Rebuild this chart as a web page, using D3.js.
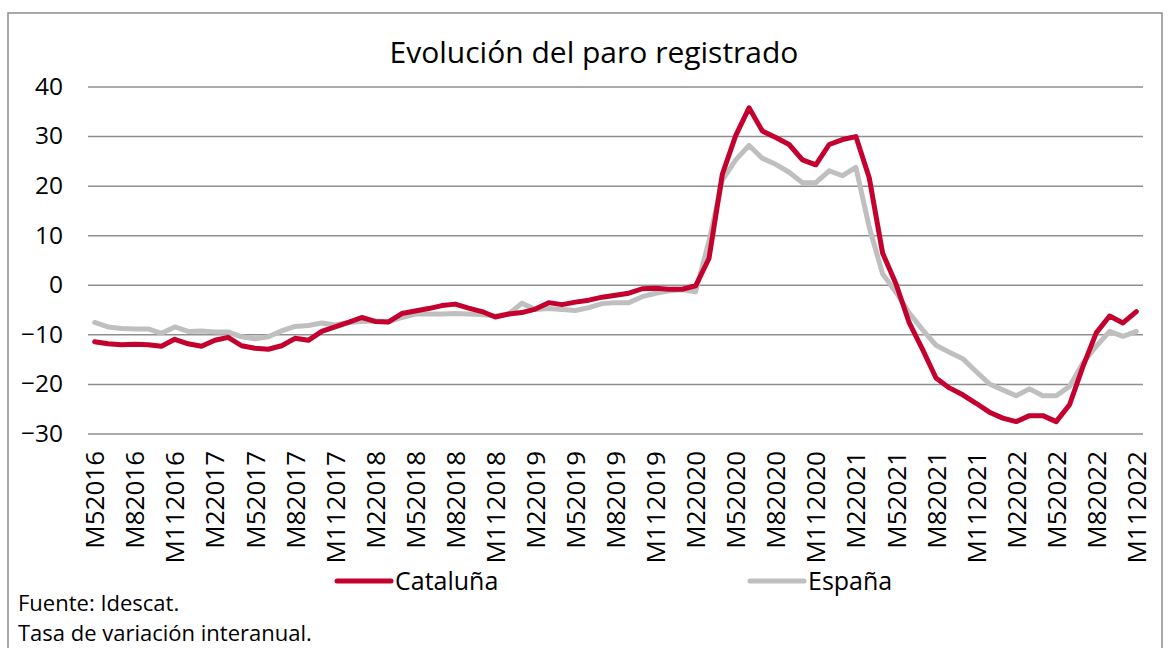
<!DOCTYPE html>
<html>
<head>
<meta charset="utf-8">
<script src="https://cdn.jsdelivr.net/npm/d3@7"></script>
<style>
  body { margin: 0; background: #fff; }
  svg { display: block; font-family: "Open Sans", sans-serif; }
</style>
</head>
<body>
<script>
// months, May 2016 .. Nov 2022
var months = [
  "M52016","M62016","M72016","M82016","M92016","M102016","M112016","M122016",
  "M12017","M22017","M32017","M42017","M52017","M62017","M72017","M82017","M92017","M102017","M112017","M122017",
  "M12018","M22018","M32018","M42018","M52018","M62018","M72018","M82018","M92018","M102018","M112018","M122018",
  "M12019","M22019","M32019","M42019","M52019","M62019","M72019","M82019","M92019","M102019","M112019","M122019",
  "M12020","M22020","M32020","M42020","M52020","M62020","M72020","M82020","M92020","M102020","M112020","M122020",
  "M12021","M22021","M32021","M42021","M52021","M62021","M72021","M82021","M92021","M102021","M112021","M122021",
  "M12022","M22022","M32022","M42022","M52022","M62022","M72022","M82022","M92022","M102022","M112022"
];

var cataluna = [
  -11.5, -11.9, -12.1, -12.0, -12.1, -12.4, -11.0, -11.9,
  -12.4, -11.2, -10.6, -12.3, -12.8, -13.0, -12.3, -10.8, -11.2, -9.4, -8.5, -7.6,
  -6.6, -7.4, -7.5, -5.8, -5.3, -4.8, -4.2, -3.9, -4.7, -5.4, -6.5, -5.9,
  -5.6, -4.9, -3.6, -4.0, -3.5, -3.1, -2.5, -2.1, -1.7, -0.8, -0.7, -0.9,
  -0.9, -0.2, 5.3, 22.3, 30.1, 35.7, 31.0, 29.7, 28.3, 25.2, 24.2, 28.3,
  29.3, 29.9, 21.6, 6.4, 0.2, -7.7, -13.1, -18.8, -20.8, -22.2, -23.9, -25.7,
  -26.9, -27.6, -26.4, -26.4, -27.6, -24.2, -16.5, -9.7, -6.3, -7.7, -5.4
];

var espana = [
  -7.6, -8.5, -8.8, -8.9, -8.9, -9.8, -8.5, -9.4,
  -9.3, -9.5, -9.5, -10.5, -10.9, -10.5, -9.3, -8.4, -8.2, -7.7, -8.1, -7.6,
  -7.4, -7.3, -7.5, -6.6, -5.9, -5.9, -5.9, -5.8, -5.9, -6.0, -6.3, -5.9,
  -3.7, -5.0, -4.8, -5.0, -5.2, -4.6, -3.8, -3.6, -3.6, -2.4, -1.7, -1.2,
  -1.0, -1.4, 8.8, 21.1, 25.2, 28.1, 25.5, 24.3, 22.7, 20.6, 20.6, 23.0,
  22.0, 23.7, 11.6, 2.2, -1.5, -5.7, -9.1, -12.2, -13.6, -14.9, -17.5, -20.0,
  -21.2, -22.4, -21.0, -22.4, -22.4, -20.5, -15.8, -12.4, -9.4, -10.4, -9.4
];

var yTicks = [-30, -20, -10, 0, 10, 20, 30, 40];
var xTickLabels = months.filter(function(d, i) { return i % 3 == 0; });

var seriesNames = ["Cataluña", "España"];
var seriesColors = ["#c4002f", "#bfbfbf"];

var width = 1169;
var height = 648;

var svg = d3.select("body")
  .append("svg")
  .attr("width", width)
  .attr("height", height);

// chart frame
svg.append("rect")
  .attr("x", 8).attr("y", 13)
  .attr("width", 1154).attr("height", 660)
  .attr("fill", "none")
  .attr("stroke", "#8c8c8c")
  .attr("stroke-width", 1.5);

var x = d3.scalePoint()
  .domain(months)
  .range([88, 1143])
  .padding(0.5);

var y = d3.scaleLinear()
  .domain([-30, 40])
  .range([433.5, 86.5]);

// gridlines
svg.append("g")
  .attr("transform", "translate(88,0)")
  .call(d3.axisLeft(y).tickValues(yTicks).tickSize(-1055).tickFormat(""))
  .call(function(g) {
    g.select(".domain").remove();
    g.selectAll(".tick line").attr("stroke", "#8f8f8f").attr("stroke-width", 1.5);
  });

// y labels
svg.append("g")
  .attr("transform", "translate(63,0)")
  .call(d3.axisLeft(y).tickValues(yTicks).tickSize(0).tickPadding(0))
  .call(function(g) {
    g.select(".domain").remove();
    g.selectAll("text")
      .attr("font-family", "Open Sans")
      .attr("font-size", "24.5px")
      .attr("fill", "#000");
  });

// x labels
svg.append("g")
  .attr("transform", "translate(0,451)")
  .call(d3.axisBottom(x).tickValues(xTickLabels).tickSize(0).tickPadding(0))
  .call(function(g) {
    g.select(".domain").remove();
    g.selectAll("text")
      .attr("font-family", "Open Sans")
      .attr("font-size", "26px")
      .attr("fill", "#000")
      .attr("text-anchor", "end")
      .attr("transform", "rotate(-90)")
      .attr("x", 0)
      .attr("y", 0)
      .attr("dy", "0.35em");
  });

// lines
var line = d3.line()
  .x(function(d, i) { return x(months[i]); })
  .y(function(d) { return y(d); });

[cataluna, espana].reverse().forEach(function(s, k) {
  svg.append("path")
    .datum(s)
    .attr("d", line)
    .attr("fill", "none")
    .attr("stroke", seriesColors[1 - k])
    .attr("stroke-width", 5)
    .attr("stroke-linejoin", "round")
    .attr("stroke-linecap", "round");
});

// title
svg.append("text")
  .text("Evolución del paro registrado")
  .attr("x", 594)
  .attr("y", 63)
  .attr("text-anchor", "middle")
  .attr("font-size", "30px")
  .attr("fill", "#000");

// legend
var legendX = [337, 750];
seriesNames.forEach(function(name, i) {
  svg.append("line")
    .attr("x1", legendX[i]).attr("x2", legendX[i] + 54)
    .attr("y1", 581).attr("y2", 581)
    .attr("stroke", seriesColors[i])
    .attr("stroke-width", 5)
    .attr("stroke-linecap", "round");
  svg.append("text")
    .text(name)
    .attr("x", legendX[i] + 58)
    .attr("y", 590)
    .attr("font-size", "25px")
    .attr("fill", "#000");
});

// notes
svg.append("text")
  .text("Fuente: Idescat.")
  .attr("x", 18).attr("y", 611)
  .attr("font-size", "22px")
  .attr("fill", "#000");
svg.append("text")
  .text("Tasa de variación interanual.")
  .attr("x", 18).attr("y", 641)
  .attr("font-size", "22px")
  .attr("fill", "#000");
</script>
</body>
</html>
